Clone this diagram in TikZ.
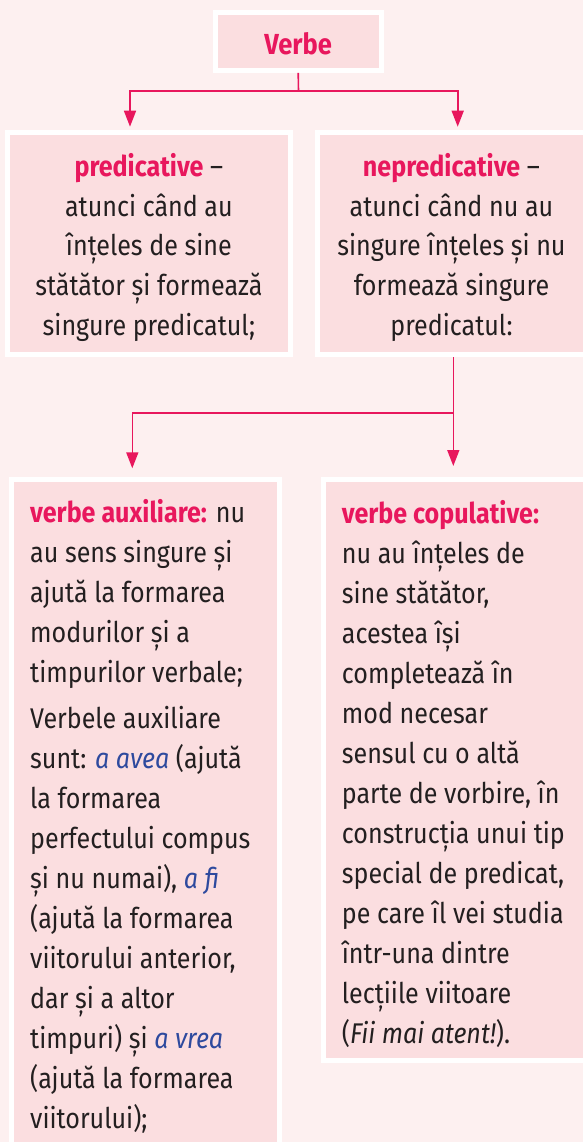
\documentclass[tikz,border=0pt]{standalone}
\usepackage{fontspec}
\setmainfont{Fira Sans}[FakeStretch=0.88]
\usetikzlibrary{arrows.meta}

\definecolor{bgpink}{HTML}{FDF0F0}
\definecolor{boxfill}{HTML}{FBDEE0}
\definecolor{accent}{HTML}{E8175D}
\definecolor{ink}{HTML}{231F20}
\definecolor{italblue}{HTML}{2E4A9E}

\newcommand{\term}[1]{\textcolor{accent}{\bfseries #1}}
\newcommand{\verbex}[1]{\textcolor{italblue}{\itshape #1}}

\begin{document}
\begin{tikzpicture}[
    x=1pt, y=-1pt,
    box/.style={rectangle, draw=white, line width=5pt, fill=boxfill,
        inner sep=0pt},
    body/.style={font=\fontsize{28.5}{40}\selectfont, text=ink,
        inner sep=0pt},
    conn/.style={draw=accent, line width=1.6pt},
    arr/.style={conn, -{Triangle[width=12pt, length=16pt]}}
]
    \useasboundingbox (0,0) rectangle (583,1142);
    \fill[bgpink] (0,0) rectangle (583,1142);

    \node[box, minimum width=165.7pt, minimum height=57.8pt] (verbe) at (298.2,41.5) {};
    \node[box, minimum width=282.7pt, minimum height=222.3pt] (pred) at (148.9,243.7) {};
    \node[box, minimum width=268pt, minimum height=222.3pt] (nepred) at (451.5,243.7) {};
    \node[box, minimum width=267.4pt, minimum height=690pt] (aux) at (145.5,824.2) {};
    \node[box, minimum width=280pt, minimum height=581.3pt] (cop) at (463.2,769.9) {};

    % base anchor sits on the last line
    \node[body, anchor=base, font=\fontsize{29}{40}\selectfont\bfseries, text=accent]
        (verbetxt) at (298.2,55) {Verbe};
    \node[body, anchor=base, align=center, font=\fontsize{28.5}{39.6}\selectfont]
        (predtxt) at (148.9,335)
        {\term{predicative} –\\ atunci când au\\ înțeles de sine\\
         stătător și formează\\ singure predicatul;};
    \node[body, anchor=base, align=center, font=\fontsize{28.5}{39.6}\selectfont]
        (nepredtxt) at (451.5,335)
        {\term{nepredicative} –\\ atunci când nu au\\ singure înțeles și nu\\
         formează singure\\ predicatul:};
    \node[body, anchor=base west, align=left] (auxtxt) at (30,1128.3)
        {\term{verbe auxiliare:} nu\\ au sens singure și\\ ajută la formarea\\
         modurilor și a\\ timpurilor verbale;\\[6pt]
         Verbele auxiliare\\ sunt: \verbex{a avea} (ajută\\ la formarea\\
         perfectului compus\\ și nu numai), \verbex{a fi}\\
         (ajută la formarea\\ viitorului anterior,\\ dar și a altor\\
         timpuri) și \verbex{a vrea}\\ (ajută la formarea\\ viitorului);};
    \node[body, anchor=base west, align=left] (coptxt) at (341.7,1043)
        {\term{verbe copulative:}\\ nu au înțeles de\\ sine stătător,\\
         acestea își\\ completează în\\ mod necesar\\ sensul cu o altă\\
         parte de vorbire, în\\ construcția unui tip\\ special de predicat,\\
         pe care îl vei studia\\ într-una dintre\\ lecțiile viitoare\\
         (\textit{Fii mai atent!}).};

    \coordinate (fork1) at (298.5,91.3);
    \coordinate (predtip) at (130,126.7);
    \coordinate (nepredtip) at (457.7,126.7);
    \coordinate (fork2) at (453.3,412.7);
    \coordinate (auxtip) at (132.3,468.3);
    \coordinate (coptip) at (453.3,466);

    \draw[conn] (verbe.south) -- (fork1);
    \draw[arr] (fork1) -| (predtip);
    \draw[arr] (fork1) -| (nepredtip);
    \draw[arr] (nepred.south -| fork2) -- (coptip);
    \draw[arr] (fork2) -| (auxtip);
\end{tikzpicture}
\end{document}
